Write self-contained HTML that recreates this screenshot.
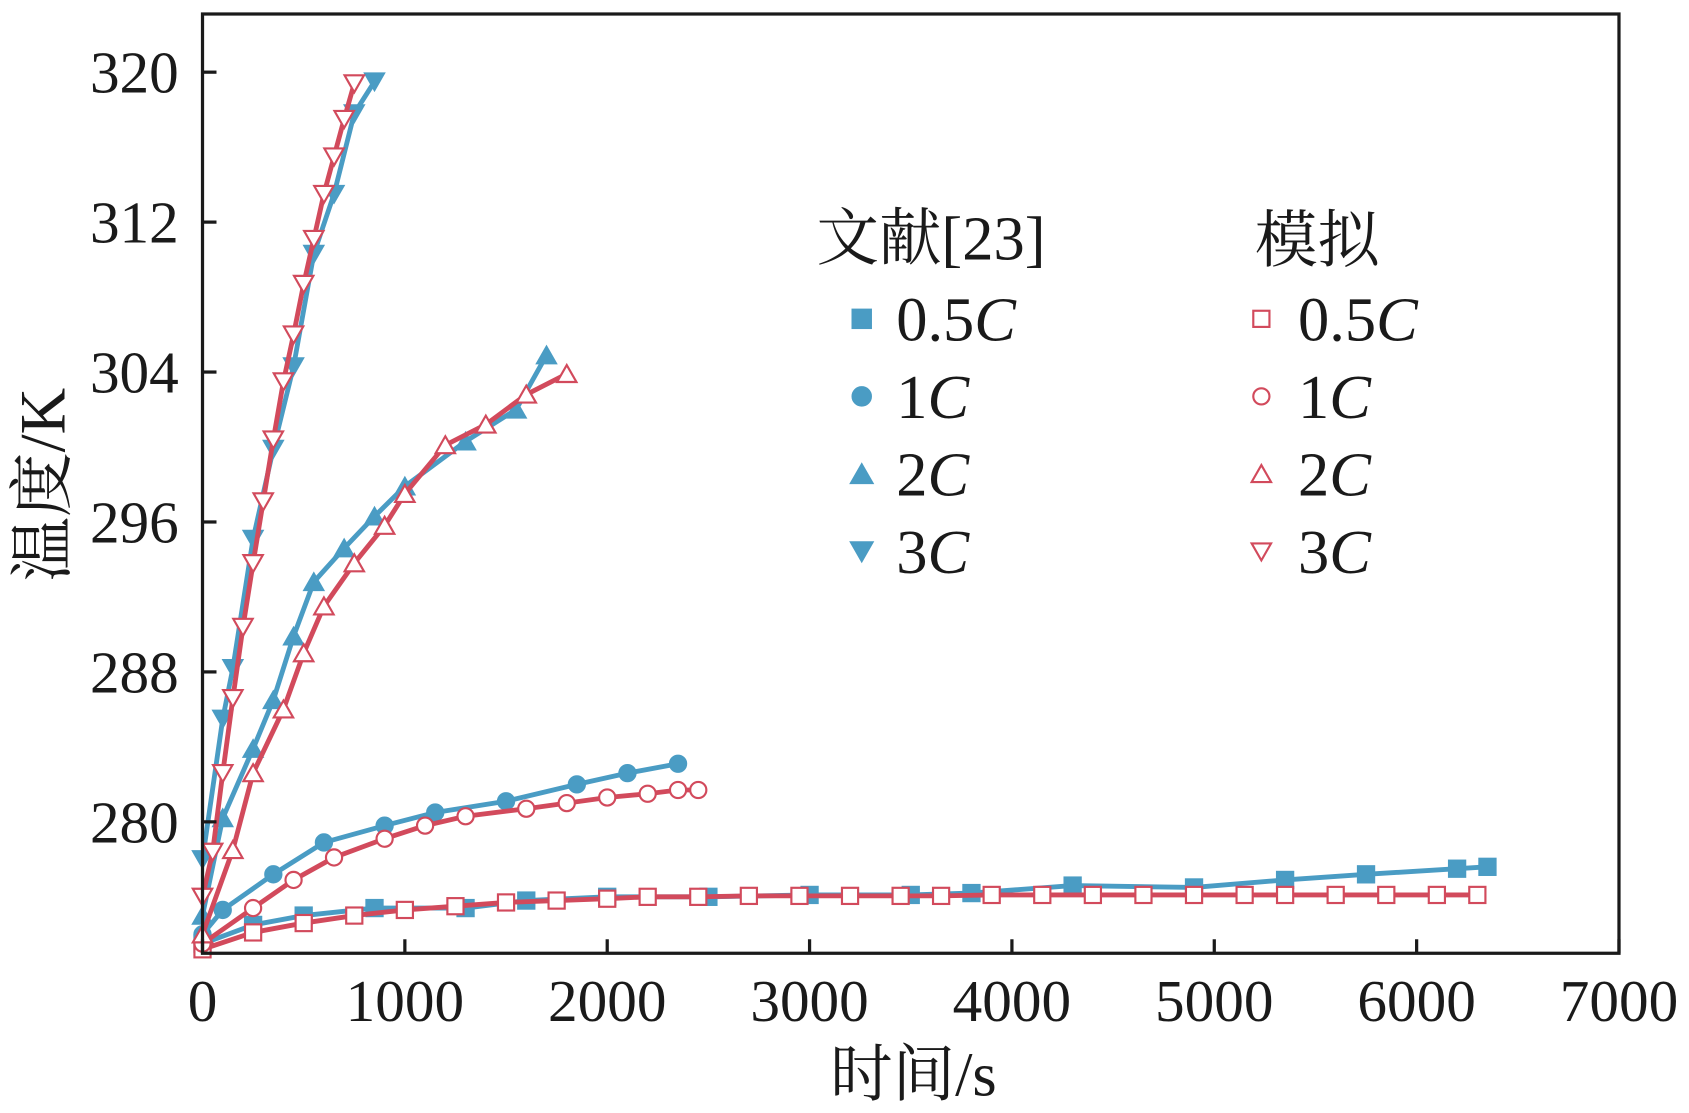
<!DOCTYPE html>
<html><head><meta charset="utf-8"><style>
html,body{margin:0;padding:0;background:#fff;}
svg{display:block;}
text{font-family:"Liberation Serif","Noto Serif CJK SC","Noto Sans CJK SC",serif;fill:#1a1a1a;}
</style></head><body>
<svg id="chart" width="1689" height="1113" viewBox="0 0 1568 1033.3" preserveAspectRatio="none" xmlns="http://www.w3.org/2000/svg">
<g id="marks"></g>
<rect x="188" y="13" width="1315" height="872" fill="none" stroke="#1a1a1a" stroke-width="3"/>
<g id="axes"></g>
<text x="848" y="1017" font-size="58" text-anchor="middle">时间/s</text>
<text transform="translate(60,450) rotate(-90)" font-size="60" text-anchor="middle">温度/K</text>
<g font-size="58">
<text x="758" y="241">文献[23]</text>
<text x="1165" y="243">模拟</text>
</g>
<g id="legend-items"></g>
</svg>
<script>
const xTicks=[0,1000,2000,3000,4000,5000,6000,7000];
const yTicks=[280,288,296,304,312,320];
const seriesNames=['0.5C','1C','2C','3C'];
const exp05T=[0,250,500,850,1300,1600,2000,2500,3000,3500,3800,4300,4900,5350,5750,6200,6350];
const exp05V=[273.5,274.5,275.0,275.4,275.4,275.8,276.0,276.0,276.1,276.1,276.2,276.6,276.5,276.9,277.2,277.5,277.6];
const sim05T=[0,250,500,750,1000,1250,1500,1750,2000,2200,2450,2700,2950,3200,3450,3650,3900,4150,4400,4650,4900,5150,5350,5600,5850,6100,6300];
const sim05V=[273.2,274.1,274.6,275.0,275.3,275.5,275.7,275.8,275.9,276.0,276.0,276.05,276.05,276.05,276.05,276.05,276.1,276.1,276.1,276.1,276.1,276.1,276.1,276.1,276.1,276.1,276.1];
const exp1T=[0,100,350,600,900,1150,1500,1850,2100,2350];
const exp1V=[274.0,275.3,277.2,278.9,279.8,280.5,281.1,282.0,282.6,283.1];
const sim1T=[0,250,450,650,900,1100,1300,1600,1800,2000,2200,2350,2450];
const sim1V=[273.5,275.4,276.9,278.1,279.1,279.8,280.3,280.7,281.0,281.3,281.5,281.7,281.7];
const exp2T=[0,100,250,350,450,550,700,850,1000,1300,1550,1700];
const exp2V=[275.0,280.2,283.9,286.5,289.9,292.8,294.6,296.3,297.9,300.3,302.0,304.9];
const sim2T=[0,150,250,400,500,600,750,900,1000,1200,1400,1600,1800];
const sim2V=[274.0,278.5,282.6,286.0,289.0,291.5,293.8,295.8,297.5,300.1,301.2,302.8,303.9];
const exp3T=[0,100,150,250,350,450,550,650,750,850];
const exp3V=[278.0,285.5,288.2,295.1,299.9,304.3,310.3,313.5,317.8,319.5];
const sim3T=[0,50,100,150,200,250,300,350,400,450,500,550,600,650,700,750];
const sim3V=[276.0,278.4,282.6,286.6,290.4,293.8,297.1,300.4,303.5,306.0,308.7,311.1,313.5,315.5,317.5,319.4];

const NS='http://www.w3.org/2000/svg';
const X0=188,X1=1503,YT=13,YB=885;
const xs=t=>X0+t/7000*(X1-X0);
const ys=v=>763-(v-280)*17.4;
const BLUE='#4a9cc4',RED='#d24a5c';
function mk(tag,attrs,parent){const e=document.createElementNS(NS,tag);for(const k in attrs)e.setAttribute(k,attrs[k]);parent.appendChild(e);return e;}
function marker(shape,cx,cy,filled,color,parent,s){
  let e;
  const st=filled?{fill:color,stroke:color,'stroke-width':1}:{fill:'#fff',stroke:color,'stroke-width':2};
  if(shape==='sq'){e=mk('rect',Object.assign({x:cx-s,y:cy-s,width:2*s,height:2*s},st),parent);}
  else if(shape==='ci'){e=mk('circle',Object.assign({cx:cx,cy:cy,r:s},st),parent);}
  else if(shape==='up'){e=mk('polygon',Object.assign({points:`${cx-s*1.2},${cy+s} ${cx+s*1.2},${cy+s} ${cx},${cy-s*1.1}`},st),parent);}
  else {e=mk('polygon',Object.assign({points:`${cx-s*1.2},${cy-s} ${cx+s*1.2},${cy-s} ${cx},${cy+s*1.1}`},st),parent);}
  return e;
}
const marks=document.getElementById('marks');
const series=[
 ['exp-0.5c',exp05T,exp05V,'sq',true,BLUE],['sim-0.5c',sim05T,sim05V,'sq',false,RED],
 ['exp-1c',exp1T,exp1V,'ci',true,BLUE],['sim-1c',sim1T,sim1V,'ci',false,RED],
 ['exp-2c',exp2T,exp2V,'up',true,BLUE],['sim-2c',sim2T,sim2V,'up',false,RED],
 ['exp-3c',exp3T,exp3V,'dn',true,BLUE],['sim-3c',sim3T,sim3V,'dn',false,RED]];
series.forEach(([name,T,V,shape,filled,color])=>{
  const g=mk('g',{},marks);
  
  
  const pl=mk('polyline',{points:T.map((t,i)=>xs(t)+','+ys(V[i])).join(' '),fill:'none',stroke:color,'stroke-width':4.5},g);
  
  
  T.forEach((t,i)=>{const m=marker(shape,xs(t),ys(V[i]),filled,color,g,filled?8:7.5);
    
    });
});
const axes=document.getElementById('axes');
xTicks.forEach(t=>{
  const l=mk('line',{x1:xs(t),x2:xs(t),y1:YB,y2:YB-13,stroke:'#1a1a1a','stroke-width':3},axes);
  
  
  const tx=mk('text',{x:xs(t),y:948,'font-size':55,'text-anchor':'middle'},axes);tx.textContent=t;
  
  
});
yTicks.forEach(v=>{
  const l=mk('line',{x1:X0,x2:X0+13,y1:ys(v),y2:ys(v),stroke:'#1a1a1a','stroke-width':3},axes);
  
  
  const tx=mk('text',{x:166,y:ys(v)+19,'font-size':55,'text-anchor':'end'},axes);tx.textContent=v;
  
  
});
const lg=document.getElementById('legend-items');
const shapes=['sq','ci','up','dn'];
seriesNames.forEach((n,i)=>{
  const y=296+i*72;
  const m1=marker(shapes[i],800,y,true,BLUE,lg,9);
  
  
  const m2=marker(shapes[i],1171,y,false,RED,lg,7.5);
  
  
  [[832,'exp'],[1205,'sim']].forEach(([x,k])=>{
    const tx=mk('text',{x:x,y:y+20,'font-size':58},lg);
    tx.appendChild(document.createTextNode(n.slice(0,-1)));
    const it=mk('tspan',{'font-style':'italic'},tx);it.textContent='C';
    
    
  });
});
</script>
</body></html>
